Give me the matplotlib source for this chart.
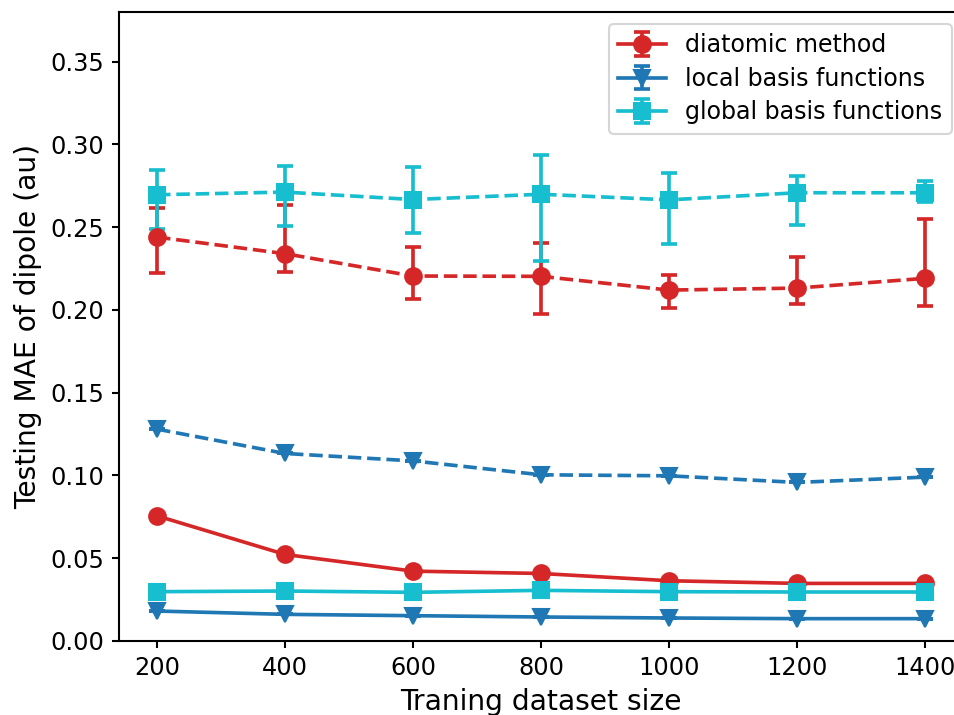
import matplotlib
matplotlib.use("Agg")
import matplotlib.pyplot as plt
import numpy as np

sizes = [200, 400, 600, 800, 1000, 1200, 1400]

# testing MAE (dashed, with error bars)
diatomic_test = [0.2440, 0.2340, 0.2205, 0.2203, 0.2120, 0.2132, 0.2191]
diatomic_test_hi = [0.2615, 0.2637, 0.2378, 0.2402, 0.2209, 0.2319, 0.2547]
diatomic_test_lo = [0.2223, 0.2229, 0.2066, 0.1977, 0.2011, 0.2034, 0.2026]

local_test = [0.1280, 0.1133, 0.1088, 0.1004, 0.0998, 0.0958, 0.0990]

global_test = [0.2696, 0.2712, 0.2667, 0.2699, 0.2665, 0.2708, 0.2708]
global_test_hi = [0.2848, 0.2871, 0.2862, 0.2935, 0.2828, 0.2808, 0.2776]
global_test_lo = [0.2490, 0.2510, 0.2462, 0.2293, 0.2398, 0.2512, 0.2651]

# training MAE (solid)
diatomic_train = [0.0756, 0.0523, 0.0422, 0.0408, 0.0364, 0.0348, 0.0348]
local_train = [0.0181, 0.0161, 0.0153, 0.0145, 0.0139, 0.0135, 0.0135]
global_train = [0.0298, 0.0302, 0.0294, 0.0306, 0.0298, 0.0296, 0.0296]

labels = ["diatomic method", "local basis functions", "global basis functions"]
c_red, c_blue, c_cyan = "#d62728", "#1f77b4", "#17becf"

W, H, DPI = 955, 715, 150
fig = plt.figure(figsize=(W / DPI, H / DPI), dpi=DPI)
ax = fig.add_axes([118.6 / W, (H - 641) / H, 844.8 / W, 629 / H])
for s in ax.spines.values():
    s.set_linewidth(1.0)

x = np.array(sizes)
LW = 1.75
common = dict(ms=8, capsize=4, lw=LW, elinewidth=LW, capthick=LW)

def yerr(c, lo, hi):
    c = np.array(c)
    return [c - np.array(lo), np.array(hi) - c]

zero = np.zeros(len(x))

# training (solid) — labelled
ax.errorbar(x, diatomic_train, yerr=zero, color=c_red, ls="-", marker="o",
            label=labels[0], **common)
ax.errorbar(x, local_train, yerr=zero, color=c_blue, ls="-", marker="v",
            label=labels[1], **common)
ax.errorbar(x, global_train, yerr=zero, color=c_cyan, ls="-", marker="s",
            label=labels[2], **common)

# testing (dashed)
ax.errorbar(x, diatomic_test, yerr=yerr(diatomic_test, diatomic_test_lo, diatomic_test_hi),
            color=c_red, ls="--", marker="o", **common)
ax.errorbar(x, local_test, yerr=zero, color=c_blue, ls="--", marker="v", **common)
ax.errorbar(x, global_test, yerr=yerr(global_test, global_test_lo, global_test_hi),
            color=c_cyan, ls="--", marker="s", **common)

ax.set_xlim(140, 1460)
ax.set_ylim(0, 0.38)
ax.set_xticks(sizes)
ax.set_yticks(np.arange(0, 0.36, 0.05))
ax.tick_params(labelsize=11.5, width=1.0)
ax.set_xlabel("Traning dataset size", fontsize=13.5)
ax.set_ylabel("Testing MAE of dipole (au)", fontsize=13.5)
ax.legend(loc="upper right", fontsize=11.4, labelspacing=0.4)

fig.savefig("out.png", dpi=DPI)
